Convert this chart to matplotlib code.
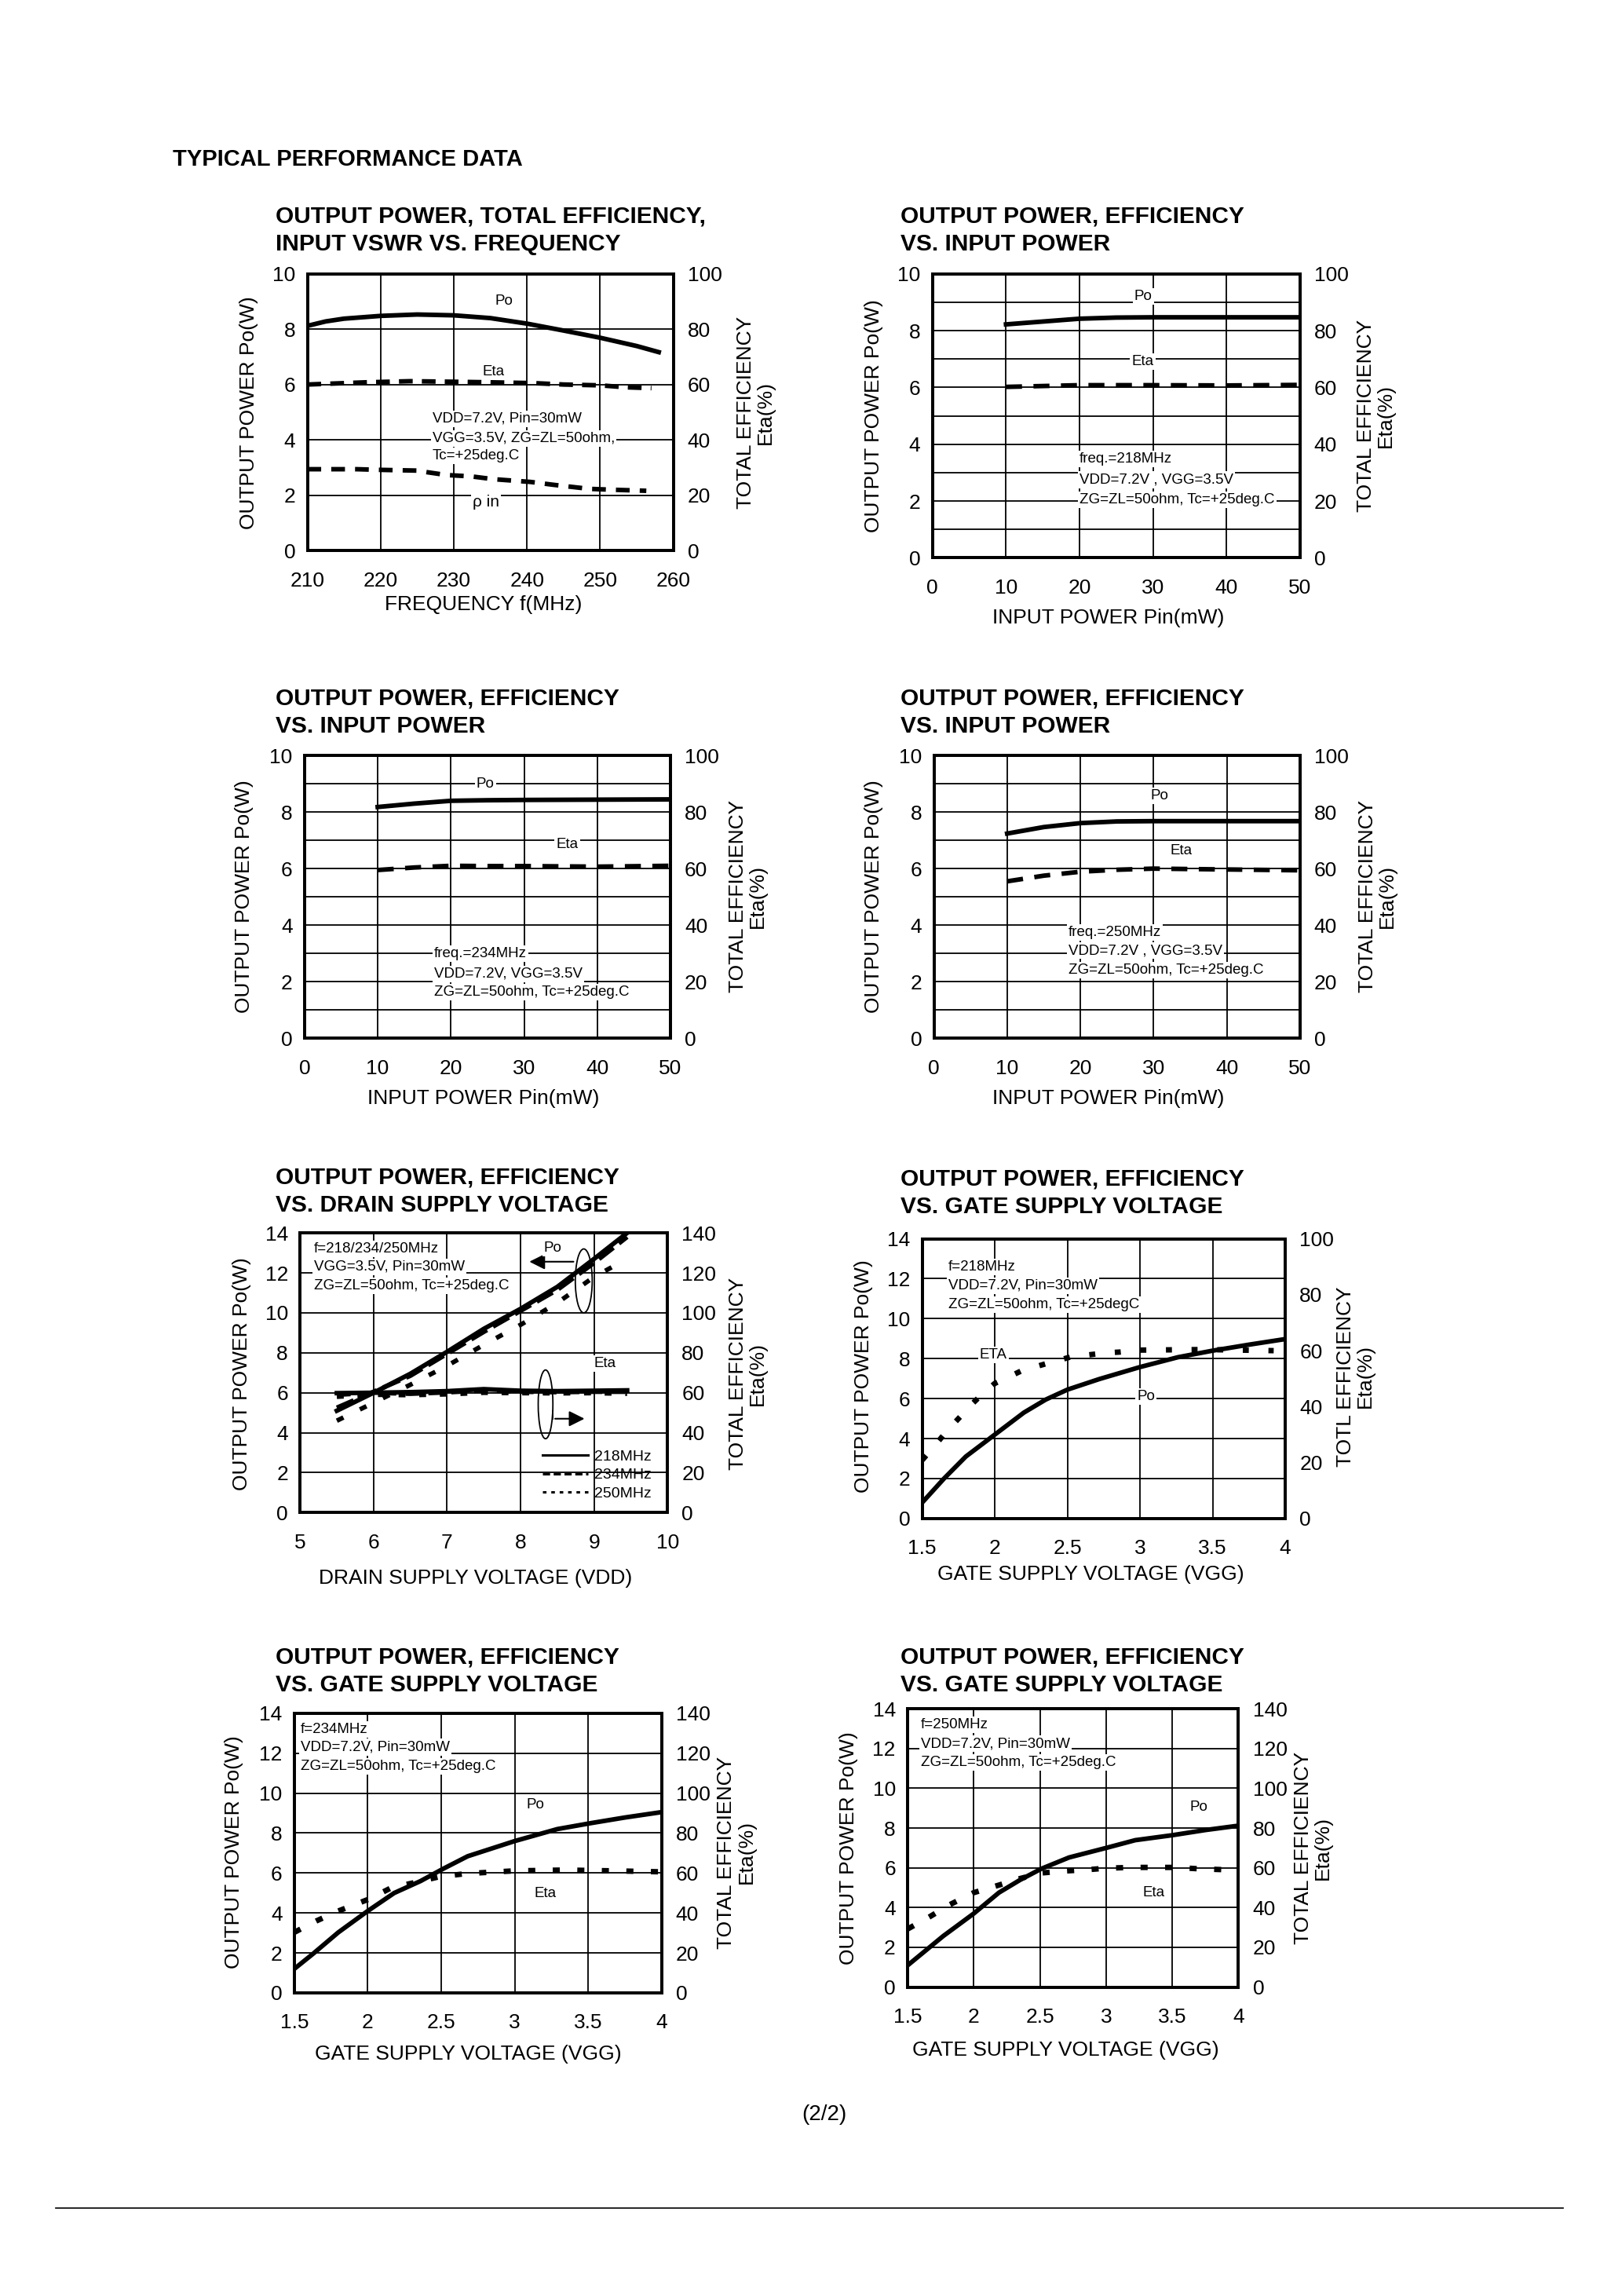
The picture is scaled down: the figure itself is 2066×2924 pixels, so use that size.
import numpy as np
import matplotlib.pyplot as plt
from matplotlib.patches import Ellipse
from matplotlib.lines import Line2D

plt.rcParams['font.family'] = ['Liberation Sans', 'DejaVu Sans']

# ---- data ----
# 1: Po / Eta / rho_in vs frequency
f1_x = [210, 212.5, 215, 220, 225, 230, 235, 240, 245, 250, 255, 258]
f1_po = [8.12, 8.28, 8.38, 8.48, 8.53, 8.5, 8.4, 8.2, 7.95, 7.69, 7.39, 7.17]
f1_eta_x = [210, 213, 218, 224, 230, 235, 241, 245, 250, 253.5, 257]
f1_eta = [60, 60.3, 60.8, 61.2, 61, 60.8, 60.5, 60, 59.7, 59, 58.7]
f1_rho_x = [210, 216.8, 219.3, 225, 226.4, 229, 232.4, 235.4, 240.5, 243.5, 248.5, 251.5, 256.3]
f1_rho = [2.94, 2.94, 2.92, 2.89, 2.83, 2.73, 2.68, 2.58, 2.48, 2.38, 2.23, 2.2, 2.16]

# 2-4: Po / Eta vs input power (218, 234, 250 MHz)
pin = [10, 15, 20, 25, 30, 40, 50]
po_218 = [8.22, 8.32, 8.42, 8.46, 8.47, 8.47, 8.47]
eta_218 = [60.2, 60.5, 60.8, 60.8, 60.8, 60.7, 60.9]
po_234 = [8.18, 8.3, 8.4, 8.42, 8.43, 8.44, 8.45]
eta_234 = [59.5, 60.4, 61.0, 60.9, 60.9, 60.7, 61.0]
po_250 = [7.24, 7.47, 7.61, 7.67, 7.68, 7.68, 7.68]
eta_250 = [55.5, 57.5, 58.9, 59.6, 60.0, 59.7, 59.4]

# 5: Po / Eta vs drain voltage
vdd = [5.5, 6, 6.5, 7, 7.5, 8, 8.5, 9, 9.45]
vdd_po_218 = [5.1, 6.0, 6.95, 8.05, 9.2, 10.2, 11.3, 12.7, 14.0]
vdd_po_234 = [5.25, 6.05, 6.85, 7.95, 9.05, 10.1, 11.15, 12.5, 13.8]
vdd_po_250 = [4.6, 5.5, 6.4, 7.35, 8.4, 9.4, 10.5, 11.8, 12.5]
vdd_eta_218 = [59.8, 60.0, 60.3, 60.8, 61.8, 61.0, 60.8, 61.0, 61.2]
vdd_eta_234 = [59.0, 60.0, 59.5, 60.2, 61.2, 60.5, 60.3, 60.5, 60.5]
vdd_eta_250 = [58.0, 59.0, 58.8, 59.2, 60.0, 59.8, 59.7, 59.8, 59.5]

# 6: Po / Eta vs gate voltage, 218 MHz
g6_x = [1.5, 1.65, 1.8, 2.0, 2.2, 2.35, 2.5, 2.72, 3.0, 3.26, 3.5, 3.75, 4.0]
g6_po = [0.8, 2.0, 3.1, 4.2, 5.3, 5.95, 6.45, 6.98, 7.58, 8.07, 8.4, 8.7, 8.98]
g6_eta_x = [1.5, 1.6, 1.67, 1.76, 1.84, 1.91, 2.0, 2.18, 2.31, 2.41, 2.52, 2.63, 2.76, 2.86, 3.0, 3.44, 3.92]
g6_eta = [20.9, 26.9, 31.3, 36.3, 40.8, 44.3, 48.3, 52.7, 54.7, 56.2, 57.7, 58.4, 59.2, 59.5, 60.2, 60.4, 60.0]

# 7: gate voltage, 234 MHz
g7_x = [1.5, 1.63, 1.8, 2.0, 2.18, 2.36, 2.51, 2.68, 3.0, 3.29, 3.52, 3.75, 4.0]
g7_po = [1.2, 1.97, 3.03, 4.1, 5.0, 5.6, 6.2, 6.84, 7.6, 8.2, 8.5, 8.78, 9.05]
g7_eta_x = [1.5, 1.65, 1.8, 2.01, 2.16, 2.33, 2.49, 2.67, 2.83, 3.0, 3.34, 3.67, 4.0]
g7_eta = [30.3, 36, 41, 47, 52.6, 55.4, 58.2, 59.7, 60.4, 61.1, 61.5, 61.1, 60.6]

# 8: gate voltage, 250 MHz
g8_x = [1.5, 1.77, 2.0, 2.19, 2.35, 2.51, 2.72, 3.0, 3.22, 3.5, 3.75, 4.0]
g8_po = [1.09, 2.57, 3.7, 4.75, 5.39, 5.95, 6.52, 7.0, 7.39, 7.64, 7.9, 8.12]
g8_eta_x = [1.5, 1.67, 1.82, 2.0, 2.19, 2.35, 2.51, 2.69, 2.87, 3.0, 3.19, 3.36, 3.52, 3.7, 3.87]
g8_eta = [29.2, 35.5, 41.5, 47.5, 51.3, 54.6, 57.4, 58.4, 59.1, 59.8, 60.2, 60.2, 60.2, 59.5, 59.1]

gate_ticks = [1.5, 2, 2.5, 3, 3.5, 4]
gate_labels = ['1.5', '2', '2.5', '3', '3.5', '4']

# page layout was measured on a 1108 x 1568 copy of the page
W, H = 1108, 1568
fig = plt.figure(figsize=(20.66, 29.24), dpi=100)
K = 'black'
TICK = 19
LAB = 19
NOTE = 13.5


def ftext(x, y, s, **kw):
    fig.text(x / W, 1 - y / H, s, **kw)


def panel(rect, xlim, xticks, xlabels, ymax, rmax, yminor, titles, title_x,
          title_y, xlabel, xlabel_xy, ylabel_xy, rlabel_xy, rtitle='TOTAL EFFICIENCY'):
    l, t, r, b = rect
    ax = fig.add_axes([l / W, 1 - b / H, (r - l) / W, (b - t) / H])
    ax.set_xlim(*xlim)
    ax.set_ylim(0, ymax)
    ax.set_xticks(xticks, xlabels)
    ax.set_yticks(np.arange(0, ymax + 1, 2))
    if yminor:
        ax.set_yticks(yminor, minor=True)
    ax.tick_params(which='both', length=0, labelsize=TICK)
    ax.tick_params(axis='x', pad=19)
    ax.tick_params(axis='y', pad=11)
    ax.grid(which='both', color=K, lw=1.3)
    ax2 = ax.twinx()
    ax2.set_ylim(0, rmax)
    ax2.set_yticks(np.arange(0, rmax + 1, 20))
    ax2.tick_params(length=0, labelsize=TICK, pad=13)
    for a in (ax, ax2):
        for s in a.spines.values():
            s.set_linewidth(2.7)
    for i, tt in enumerate(titles):
        ftext(title_x, title_y + 19 * i, tt, fontsize=21.5, fontweight='bold',
              ha='left', va='center')
    ftext(*xlabel_xy, xlabel, fontsize=LAB, ha='center', va='center')
    ftext(*ylabel_xy, 'OUTPUT POWER Po(W)', fontsize=LAB, rotation=90,
          ha='center', va='center')
    ftext(*rlabel_xy, rtitle + '\nEta(%)', fontsize=LAB, rotation=90,
          ha='center', va='center', multialignment='center', linespacing=1.05)
    return ax, ax2


def note(ax, x, y, s, ha='left', size=NOTE):
    ax.text(x, y, s, fontsize=size, ha=ha, va='center',
            bbox=dict(facecolor='white', edgecolor='none', pad=1.5))


def cond(ax, x, ys, lines):
    for y, s in zip(ys, lines):
        note(ax, x, y, s)


ftext(118, 109, 'TYPICAL PERFORMANCE DATA', fontsize=21, fontweight='bold',
      ha='left', va='center')

# ---- panel 1 ----
ax, ax2 = panel((210, 187, 460, 376), (210, 260), range(210, 261, 10),
                [str(v) for v in range(210, 261, 10)], 10, 100, None,
                ['OUTPUT POWER, TOTAL EFFICIENCY,', 'INPUT VSWR VS. FREQUENCY'],
                188, 148, 'FREQUENCY f(MHz)', (330, 413), (170, 282), (516, 282))
cond(ax, 227.1, [4.76, 4.05, 3.42],
     ['VDD=7.2V, Pin=30mW', 'VGG=3.5V, ZG=ZL=50ohm,', 'Tc=+25deg.C'])
note(ax, 236.9, 9.0, 'Po', ha='center')
note(ax, 235.4, 6.45, 'Eta', ha='center')
note(ax, 234.4, 1.75, 'ρ in', ha='center', size=15)
ax.plot(f1_x, f1_po, color=K, lw=4.2, zorder=4)
ax.plot(f1_rho_x, f1_rho, color=K, lw=4.2, ls=(0, (3, 2.2)), zorder=4)
ax2.plot(f1_eta_x, f1_eta, color=K, lw=4.2, ls=(0, (3, 2)))

# ---- panels 2-4 ----
pin_ticks = range(0, 51, 10)
pin_labels = [str(v) for v in pin_ticks]
odd = [1, 3, 5, 7, 9]
specs = [
    ((637, 187, 888, 381), 615, 148, (757, 422), (597, 284), (940, 284),
     po_218, eta_218, '218MHz', 'VDD=7.2V , VGG=3.5V', 20, [3.48, 2.75, 2.05],
     (28.7, 9.2), (28.6, 6.9)),
    ((208, 516, 458, 709), 188, 477, (330, 750), (167, 612), (511, 612),
     po_234, eta_234, '234MHz', 'VDD=7.2V, VGG=3.5V', 17.7, [2.98, 2.28, 1.64],
     (24.7, 9.0), (35.9, 6.85)),
    ((638, 516, 888, 709), 615, 477, (757, 750), (597, 612), (941, 612),
     po_250, eta_250, '250MHz', 'VDD=7.2V , VGG=3.5V', 18.4, [3.73, 3.09, 2.4],
     (30.8, 8.57), (33.8, 6.64)),
]
for (rect, tx, ty, xl, yl, rl, po, eta, fr, vline, cx, cys, po_xy, eta_xy) in specs:
    ax, ax2 = panel(rect, (0, 50), pin_ticks, pin_labels, 10, 100, odd,
                    ['OUTPUT POWER, EFFICIENCY', 'VS. INPUT POWER'], tx, ty,
                    'INPUT POWER Pin(mW)', xl, yl, rl)
    cond(ax, cx, cys, ['freq.=' + fr, vline, 'ZG=ZL=50ohm, Tc=+25deg.C'])
    note(ax, *po_xy, 'Po', ha='center')
    note(ax, *eta_xy, 'Eta', ha='center')
    ax.plot(pin, po, color=K, lw=4.2, zorder=4)
    ax2.plot(pin, eta, color=K, lw=4.2, ls=(0, (3.5, 2.5)))

# ---- panel 5: drain voltage ----
ax, ax2 = panel((205, 842, 456, 1033), (5, 10), range(5, 11), [str(v) for v in range(5, 11)],
                14, 140, None, ['OUTPUT POWER, EFFICIENCY', 'VS. DRAIN SUPPLY VOLTAGE'],
                188, 804, 'DRAIN SUPPLY VOLTAGE (VDD)', (325, 1078), (165, 938), (511, 938))
cond(ax, 5.19, [13.2, 12.3, 11.35],
     ['f=218/234/250MHz', 'VGG=3.5V, Pin=30mW', 'ZG=ZL=50ohm, Tc=+25deg.C'])
ax.plot(vdd, vdd_po_218, color=K, lw=4.2, zorder=4)
ax.plot(vdd, vdd_po_234, color=K, lw=4.2, ls=(0, (4, 1.5)), zorder=4)
ax.plot(vdd[:-1] + [9.35], vdd_po_250[:-1] + [vdd_po_250[-1]], color=K, lw=4.2,
        ls=(0, (1.6, 4)), zorder=4)
ax2.plot(vdd, vdd_eta_218, color=K, lw=4.2)
ax2.plot(vdd, vdd_eta_234, color=K, lw=4.2, ls=(0, (3, 2)))
ax2.plot(vdd, vdd_eta_250, color=K, lw=4.2, ls=(0, (1.5, 3)))
ax.add_patch(Ellipse((8.86, 11.6), 0.23, 3.2, fill=False, lw=1.3, color=K, zorder=5))
ax.add_patch(Ellipse((8.34, 5.42), 0.2, 3.44, fill=False, lw=1.3, color=K, zorder=5))
ax.annotate('', xy=(8.09, 12.56), xytext=(8.75, 12.56),
            arrowprops=dict(arrowstyle='-|>', color=K, lw=1.5, mutation_scale=30))
ax.annotate('', xy=(8.9, 4.7), xytext=(8.44, 4.7),
            arrowprops=dict(arrowstyle='-|>', color=K, lw=1.5, mutation_scale=30))
ax.plot([8.44, 8.44], [4.7, 5.1], color=K, lw=1.3)
note(ax, 8.44, 13.25, 'Po', ha='center')
note(ax, 9.15, 7.45, 'Eta', ha='center')
handles = [Line2D([], [], color=K, lw=2.2),
           Line2D([], [], color=K, lw=2.2, ls=(0, (3, 1.5))),
           Line2D([], [], color=K, lw=2.2, ls=(0, (1.5, 2)))]
ax.legend(handles, ['218MHz', '234MHz', '250MHz'], loc='lower right',
          bbox_to_anchor=(0.99, 0.0), frameon=False, fontsize=14,
          handlelength=3.0, handletextpad=0.4, labelspacing=0.3, borderpad=0.3)

# ---- panels 6-8: gate voltage ----
gate_titles = ['OUTPUT POWER, EFFICIENCY', 'VS. GATE SUPPLY VOLTAGE']
ax, ax2 = panel((630, 846, 878, 1037), (1.5, 4), gate_ticks, gate_labels, 14, 100, None,
                gate_titles, 615, 805, 'GATE SUPPLY VOLTAGE (VGG)', (745, 1075),
                (590, 940), (926, 940), rtitle='TOTL EFFICIENCY')
cond(ax, 1.68, [12.6, 11.65, 10.7],
     ['f=218MHz', 'VDD=7.2V, Pin=30mW', 'ZG=ZL=50ohm, Tc=+25degC'])
note(ax, 1.99, 8.2, 'ETA', ha='center')
note(ax, 3.04, 6.1, 'Po', ha='center')
ax.plot(g6_x, g6_po, color=K, lw=4.2, zorder=4)
ax2.plot(g6_eta_x, g6_eta, color=K, lw=5, ls=(0, (1.1, 3.6)))

ax, ax2 = panel((201, 1170, 452, 1361), (1.5, 4), gate_ticks, gate_labels, 14, 140, None,
                gate_titles, 188, 1132, 'GATE SUPPLY VOLTAGE (VGG)', (320, 1403),
                (160, 1265), (503, 1265))
cond(ax, 1.545, [13.2, 12.3, 11.35],
     ['f=234MHz', 'VDD=7.2V, Pin=30mW', 'ZG=ZL=50ohm, Tc=+25deg.C'])
note(ax, 3.14, 9.4, 'Po', ha='center')
note(ax, 3.21, 4.98, 'Eta', ha='center')
ax.plot(g7_x, g7_po, color=K, lw=4.2, zorder=4)
ax2.plot(g7_eta_x, g7_eta, color=K, lw=5, ls=(0, (1.3, 3.2)))

ax, ax2 = panel((620, 1167, 846, 1357), (1.5, 4), gate_ticks, gate_labels, 14, 140, None,
                gate_titles, 615, 1132, 'GATE SUPPLY VOLTAGE (VGG)', (728, 1400),
                (580, 1262), (897, 1262))
cond(ax, 1.6, [13.2, 12.25, 11.3],
     ['f=250MHz', 'VDD=7.2V, Pin=30mW', 'ZG=ZL=50ohm, Tc=+25deg.C'])
note(ax, 3.7, 9.06, 'Po', ha='center')
note(ax, 3.36, 4.76, 'Eta', ha='center')
ax.plot(g8_x, g8_po, color=K, lw=4.2, zorder=4)
ax2.plot(g8_eta_x, g8_eta, color=K, lw=5, ls=(0, (1.3, 3.2)))

ftext(563, 1444, '(2/2)', fontsize=20, ha='center', va='center')
fig.add_artist(Line2D([38 / W, 1068 / W], [1 - 1508 / H, 1 - 1508 / H], color=K, lw=1.2))

fig.savefig('out.png', dpi=100, facecolor='white')
